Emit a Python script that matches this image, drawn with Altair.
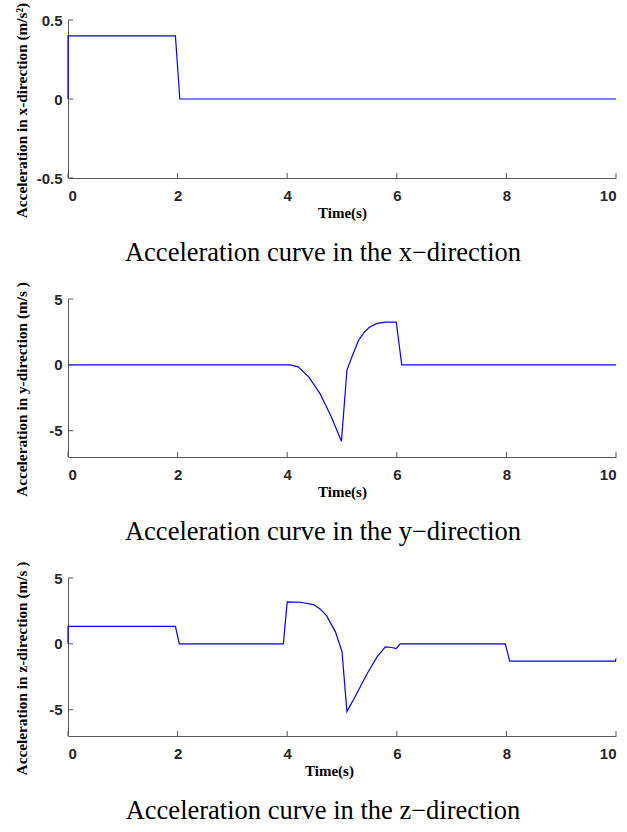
import altair as alt
import pandas as pd

# ---- data ----
x_t = [0, 0, 1.96, 2.04, 10]
x_v = [0, 0.4, 0.4, 0, 0]

y_t = [0, 4.05, 4.2, 4.4, 4.6, 4.8, 4.99, 5.09, 5.18, 5.3, 5.4, 5.5, 5.64, 5.8, 5.99, 6.09, 10]
y_v = [0, 0, -0.15, -0.95, -2.2, -3.9, -5.8, -0.4, 0.6, 1.85, 2.45, 2.85, 3.15, 3.25, 3.25, 0, 0]

z_t = [0, 0, 1.96, 2.03, 3.93, 4.0, 4.24, 4.48, 4.6, 4.72, 4.88, 5.0, 5.09, 5.27, 5.46,
       5.64, 5.79, 5.91, 5.99, 6.06, 7.98, 8.06, 9.99, 10]
z_v = [0, 1.33, 1.33, 0, 0, 3.18, 3.16, 2.98, 2.65, 2.12, 0.91, -0.6, -5.15, -3.77, -2.25,
       -0.99, -0.23, -0.28, -0.36, 0, 0, -1.32, -1.32, -1.1]

x_ticks = [0, 2, 4, 6, 8, 10]
y_ticks_small = [-0.5, 0, 0.5]
y_ticks_big = [-5, 0, 5]

titles_y = ["Acceleration in x-direction (m/s\u00b2)",
            "Acceleration in y-direction (m/s )",
            "Acceleration in z-direction (m/s )"]
captions = ["Acceleration curve in the x\u2212direction",
            "Acceleration curve in the y\u2212direction",
            "Acceleration curve in the z\u2212direction"]

W, H = 548, 158
AX = "#555555"
LBL = "#262626"


def panel(t, v, ydom, yticks, ytitle, caption, xtitle_dx=0):
    df = pd.DataFrame({"t": t, "v": v, "i": list(range(len(t)))})
    xax = alt.Axis(values=x_ticks, format="d", title="Time(s)",
                   titleFont="Liberation Serif", titleFontSize=15,
                   titleFontWeight="bold", titleColor="black",
                   titleY=27, titleX=W / 2 + xtitle_dx, titleBaseline="top")
    yax = alt.Axis(values=yticks, title=ytitle,
                   labelExpr="datum.value == 0 ? '0' : replace(datum.label, '\u2212', '-')",
                   titleFont="Liberation Serif", titleFontSize=15.3,
                   titleFontWeight="bold", titleColor="black",
                   titleX=-39, titleY=90)
    xs = alt.Scale(domain=[0, 10], nice=False)
    ys = alt.Scale(domain=ydom, nice=False, zero=False)
    line = alt.Chart(df).mark_line(color="#0000ff", strokeWidth=1.2).encode(
        x=alt.X("t:Q", scale=xs, axis=xax),
        y=alt.Y("v:Q", scale=ys, axis=yax),
        order="i:Q",
    )
    xt = alt.Chart(pd.DataFrame({"t": x_ticks})).mark_rule(color=AX, strokeWidth=1).encode(
        x=alt.X("t:Q", scale=xs, axis=xax), y=alt.value(H), y2=alt.value(H - 5))
    yt = alt.Chart(pd.DataFrame({"v": yticks})).mark_rule(color=AX, strokeWidth=1).encode(
        y=alt.Y("v:Q", scale=ys, axis=yax), x=alt.value(0), x2=alt.value(5))
    return alt.layer(line, xt, yt).properties(
        width=W, height=H,
        title=alt.TitleParams(caption, orient="bottom", font="Liberation Serif",
                              fontSize=26.5, fontWeight="normal", color="black",
                              frame="group", anchor="middle", dx=-19, offset=20,
                              baseline="top"))


p1 = panel(x_t, x_v, [-0.5, 0.5], y_ticks_small, titles_y[0], captions[0])
p2 = panel(y_t, y_v, [-7, 5], y_ticks_big, titles_y[1], captions[1])
p3 = panel(z_t, z_v, [-7, 5], y_ticks_big, titles_y[2], captions[2], xtitle_dx=-13)

chart = alt.vconcat(p1, p2, p3, spacing=121, bounds="flush").properties(
    padding={"left": 13, "top": 2, "right": 5, "bottom": 5}
).configure_view(strokeWidth=0, stroke="transparent").configure_axis(
    grid=False, ticks=False, domainColor=AX, domainWidth=1,
    labelFont="Liberation Sans", labelFontSize=15, labelFontWeight="bold",
    labelColor=LBL, labelPadding=6,
).configure_axisX(labelPadding=10)

chart.save("out.html", embed_options={"renderer": "svg", "actions": False})
